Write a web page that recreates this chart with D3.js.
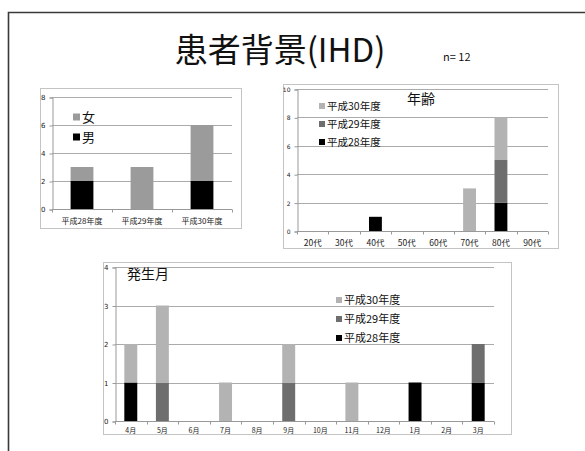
<!DOCTYPE html>
<html lang="ja">
<head>
<meta charset="UTF-8">
<title>患者背景(IHD)</title>
<style>
  body { margin: 0; padding: 0; background: #fff; }
  svg { display: block; font-family: "Noto Sans CJK JP", "Noto Sans", sans-serif; }
</style>
</head>
<body>
<svg width="585" height="451"></svg>
<script src="https://d3js.org/d3.v7.min.js"></script>
<script>
// ---- data ----
const sexCats = ["平成28年度", "平成29年度", "平成30年度"];
const sexMale = [2, 0, 2];
const sexFemale = [1, 3, 4];

const ageCats = ["20代", "30代", "40代", "50代", "60代", "70代", "80代", "90代"];
const age28 = [0, 0, 1, 0, 0, 0, 2, 0];
const age29 = [0, 0, 0, 0, 0, 0, 3, 0];
const age30 = [0, 0, 0, 0, 0, 3, 3, 0];

const monthCats = ["4月", "5月", "6月", "7月", "8月", "9月", "10月", "11月", "12月", "1月", "2月", "3月"];
const month28 = [1, 0, 0, 0, 0, 0, 0, 0, 0, 1, 0, 1];
const month29 = [0, 1, 0, 0, 0, 1, 0, 0, 0, 0, 0, 1];
const month30 = [1, 2, 0, 1, 0, 1, 0, 1, 0, 0, 0, 0];

const yearNames = ["平成28年度", "平成29年度", "平成30年度"];

const svg = d3.select("svg");

// slide border
svg.append("path")
  .attr("d", "M8.5,451 V12.5 H585")
  .attr("fill", "none").attr("stroke", "#3a3a3a").attr("stroke-width", 1.6);

// title
svg.append("text").attr("x", 280).attr("y", 62).attr("text-anchor", "middle")
  .attr("font-size", 33).attr("fill", "#111").text("患者背景(IHD)");
svg.append("text").attr("x", 443).attr("y", 61)
  .attr("font-size", 11).attr("fill", "#111").text("n= 12");

// generic stacked bar chart
function stackedChart(o) {
  const g = svg.append("g");
  g.append("rect")
    .attr("x", o.frame[0] + 0.5).attr("y", o.frame[1] + 0.5)
    .attr("width", o.frame[2] - o.frame[0]).attr("height", o.frame[3] - o.frame[1])
    .attr("fill", "#fff").attr("stroke", "#c4c4c4");

  const x = d3.scaleBand().domain(o.cats).range([o.x0, o.x1]);
  const y = d3.scaleLinear().domain([0, o.ymax]).range([o.y0, o.y1]);

  // gridlines
  g.selectAll(".grid").data(o.yticks.filter(d => d > 0)).join("line")
    .attr("x1", o.x0).attr("x2", o.x1)
    .attr("y1", d => Math.round(y(d)) + 0.5).attr("y2", d => Math.round(y(d)) + 0.5)
    .attr("stroke", "#ababab");

  // y axis
  const ya = g.append("g").attr("transform", `translate(${o.x0 + 0.5},0.5)`)
    .call(d3.axisLeft(y).tickValues(o.yticks).tickFormat(d3.format("d")).tickSize(3).tickPadding(4));
  ya.select(".domain").attr("stroke", "#999");
  ya.selectAll(".tick line").attr("stroke", "#999");
  ya.selectAll("text").attr("font-size", o.yfont).attr("fill", "#222")
    .attr("font-family", "'DejaVu Sans', sans-serif");

  // x axis with ticks between categories
  const xa = g.append("g").attr("transform", `translate(0,${Math.round(o.y0) + 0.5})`);
  xa.append("line").attr("x1", o.x0).attr("x2", o.x1).attr("stroke", "#999");
  xa.selectAll(".xt").data(d3.range(o.cats.length + 1)).join("line")
    .attr("x1", i => Math.round(o.x0 + i * x.step()) + 0.5)
    .attr("x2", i => Math.round(o.x0 + i * x.step()) + 0.5)
    .attr("y1", 0).attr("y2", 3).attr("stroke", "#999");
  xa.selectAll("text").data(o.cats).join("text")
    .attr("x", d => x(d) + x.bandwidth() / 2).attr("y", o.xlabY - Math.round(o.y0))
    .attr("text-anchor", "middle").attr("font-size", o.xfont).attr("fill", "#222")
    .text(d => d);

  // stacked bars
  const keys = o.series.map((s, i) => i);
  const rows = o.cats.map((c, j) => {
    const r = { cat: c };
    o.series.forEach((s, i) => { r[i] = s.values[j]; });
    return r;
  });
  const stack = d3.stack().keys(keys)(rows);
  const bw = x.bandwidth() * o.barFrac;
  stack.forEach((layer, i) => {
    g.selectAll(null).data(layer.filter(d => d[1] > d[0])).join("rect")
      .attr("x", d => x(d.data.cat) + (x.bandwidth() - bw) / 2)
      .attr("width", bw)
      .attr("y", d => y(d[1]))
      .attr("height", d => y(d[0]) - y(d[1]))
      .attr("fill", o.series[i].color);
  });

  // title
  if (o.title) {
    g.append("text").attr("x", o.title[0]).attr("y", o.title[1])
      .attr("font-size", o.title[2]).attr("fill", "#111").text(o.title[3]);
  }

  // legend (top item = last series)
  const leg = o.series.slice().reverse();
  leg.forEach((s, i) => {
    const ly = o.legend.y + i * o.legend.dy;
    g.append("rect").attr("x", o.legend.x).attr("y", ly - o.legend.sq / 2)
      .attr("width", o.legend.sq).attr("height", o.legend.sq).attr("fill", s.color);
    g.append("text").attr("x", o.legend.x + o.legend.sq + 2).attr("y", ly)
      .attr("dy", "0.36em").attr("font-size", o.legend.font).attr("fill", "#111")
      .text(s.name);
  });
}

const c28 = "#000000", c29 = "#6e6e6e", c30 = "#b3b3b3";

stackedChart({
  frame: [40, 88, 241, 228],
  cats: sexCats, x0: 52, x1: 232, y0: 209, y1: 97, ymax: 8, yticks: [0, 2, 4, 6, 8],
  yfont: 7, xfont: 8, xlabY: 223, barFrac: 0.38,
  series: [{ name: "男", values: sexMale, color: "#000" }, { name: "女", values: sexFemale, color: "#9b9b9b" }],
  legend: { x: 73, y: 117, dy: 20, sq: 7, font: 13 }
});

stackedChart({
  frame: [283, 84, 558, 248],
  cats: ageCats, x0: 297, x1: 548, y0: 231, y1: 89, ymax: 10, yticks: [0, 2, 4, 6, 8, 10],
  yfont: 6, xfont: 8.5, xlabY: 245, barFrac: 0.41,
  series: [{ name: yearNames[0], values: age28, color: c28 }, { name: yearNames[1], values: age29, color: c29 },
    { name: yearNames[2], values: age30, color: c30 }],
  title: [407, 104, 14, "年齢"],
  legend: { x: 319, y: 106, dy: 18, sq: 6, font: 10.5 }
});

stackedChart({
  frame: [103, 262, 511, 434],
  cats: monthCats, x0: 115, x1: 494, y0: 421, y1: 267, ymax: 4, yticks: [0, 1, 2, 3, 4],
  yfont: 7, xfont: 7, xlabY: 432, barFrac: 0.41,
  series: [{ name: yearNames[0], values: month28, color: c28 }, { name: yearNames[1], values: month29, color: c29 },
    { name: yearNames[2], values: month30, color: c30 }],
  title: [127, 279, 14, "発生月"],
  legend: { x: 336, y: 300, dy: 19, sq: 6, font: 11 }
});
</script>
</body>
</html>
